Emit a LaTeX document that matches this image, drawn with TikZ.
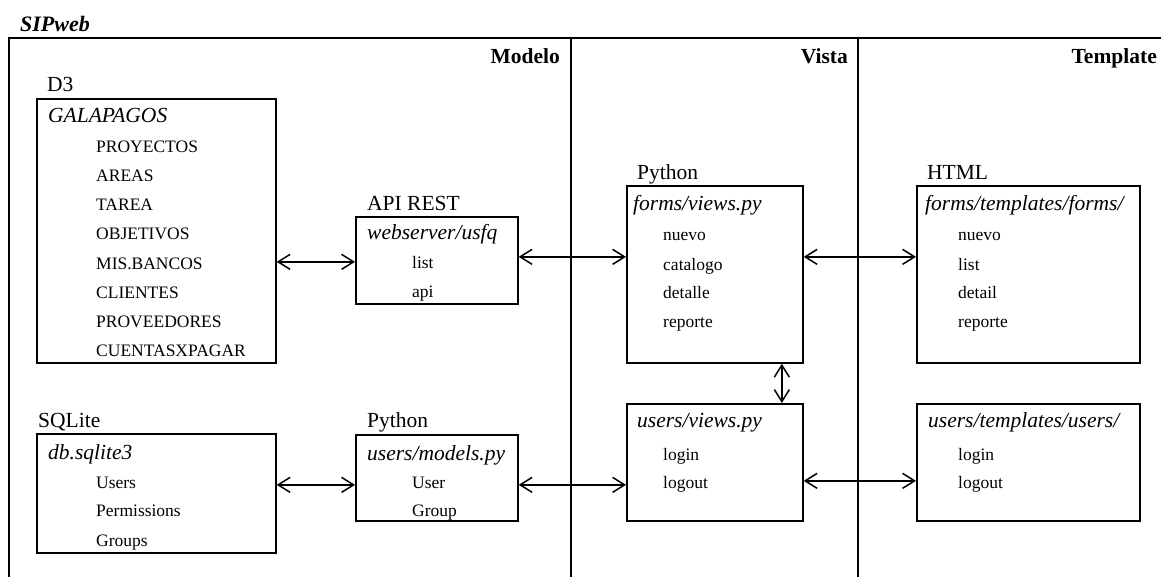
\documentclass[tikz,border=0pt]{standalone}
\usepackage{fontspec}
\setmainfont{Liberation Serif}
\usetikzlibrary{arrows.meta}
\begin{document}
\begin{tikzpicture}[x=1pt,y=-1pt,
  box/.style={draw, line width=1.7pt, inner sep=0pt, anchor=north west},
  lbl/.style={inner sep=0pt, anchor=base west, font=\fontsize{21.5}{24}\selectfont},
  ttl/.style={inner sep=0pt, anchor=base west, font=\fontsize{21.5}{24}\selectfont\itshape},
  item/.style={inner sep=0pt, anchor=base west, font=\fontsize{17.5}{20}\selectfont},
  hdr/.style={inner sep=0pt, anchor=base east, font=\fontsize{21.5}{24}\selectfont\bfseries},
  frame/.style={line width=1.5pt},
  conn/.style={line width=1.5pt, {Straight Barb[length=12pt,width=15pt]}-{Straight Barb[length=12pt,width=15pt]}}
]
\useasboundingbox (0,0) rectangle (1161,577);

% title and frame
\node[inner sep=0pt, anchor=base west, font=\fontsize{22}{24}\selectfont\bfseries\itshape] (title) at (20,32) {SIPweb};
\coordinate (tl) at (9,38);
\coordinate (tr) at (1161,38);
\coordinate (bl) at (9,577);
\coordinate (d1t) at (571,38);
\coordinate (d1b) at (571,577);
\coordinate (d2t) at (858,38);
\coordinate (d2b) at (858,577);
\draw[frame] (bl) -- (tl) -- (tr);
\draw[frame] (d1t) -- (d1b);
\draw[frame] (d2t) -- (d2b);
\node[hdr] (hmod) at (560,64) {Modelo};
\node[hdr] (hvis) at (848,64) {Vista};
\node[hdr] (htem) at (1157,64) {Template};

% boxes
\node[box, minimum width=239pt, minimum height=264pt] (d3) at (36,98) {};
\node[box, minimum width=162pt, minimum height=87pt] (api) at (355,216) {};
\node[box, minimum width=176pt, minimum height=177pt] (fv) at (626,185) {};
\node[box, minimum width=223pt, minimum height=177pt] (html) at (916,185) {};
\node[box, minimum width=239pt, minimum height=119pt] (sql) at (36,433) {};
\node[box, minimum width=162pt, minimum height=86pt] (mod) at (355,434) {};
\node[box, minimum width=176pt, minimum height=117pt] (uv) at (626,403) {};
\node[box, minimum width=223pt, minimum height=117pt] (ut) at (916,403) {};

% D3
\node[lbl] (d3l) at (47,92) {D3};
\node[ttl] (d3t) at (48,122.3) {GALAPAGOS};
\node[item] (d3a) at (96,152.7) {PROYECTOS};
\node[item] (d3b) at (96,181.8) {AREAS};
\node[item] (d3c) at (96,210.9) {TAREA};
\node[item] (d3d) at (96,240) {OBJETIVOS};
\node[item] (d3e) at (96,269.1) {MIS.BANCOS};
\node[item] (d3f) at (96,298.2) {CLIENTES};
\node[item] (d3g) at (96,327.3) {PROVEEDORES};
\node[item] (d3h) at (96,356.4) {CUENTASXPAGAR};

% API REST
\node[lbl] (apil) at (367,210.7) {API REST};
\node[ttl] (apit) at (367,240) {webserver/usfq};
\node[item] (apia) at (412,268.5) {list};
\node[item] (apib) at (412,298) {api};

% forms views
\node[lbl] (fvl) at (637,180) {Python};
\node[ttl] (fvt) at (633,210.7) {forms/views.py};
\node[item] (fva) at (663,241) {nuevo};
\node[item] (fvb) at (663,270) {catalogo};
\node[item] (fvc) at (663,298.5) {detalle};
\node[item] (fvd) at (663,327.5) {reporte};

% HTML
\node[lbl] (htmll) at (927,180) {HTML};
\node[ttl] (htmlt) at (925,210.7) {forms/templates/forms/};
\node[item] (htmla) at (958,241) {nuevo};
\node[item] (htmlb) at (958,270) {list};
\node[item] (htmlc) at (958,298.5) {detail};
\node[item] (htmld) at (958,327.5) {reporte};

% SQLite
\node[lbl] (sqll) at (38,427.7) {SQLite};
\node[ttl] (sqlt) at (48,459) {db.sqlite3};
\node[item] (sqla) at (96,488) {Users};
\node[item] (sqlb) at (96,516.7) {Permissions};
\node[item] (sqlc) at (96,546) {Groups};

% models
\node[lbl] (modl) at (367,427.7) {Python};
\node[ttl] (modt) at (367,460) {users/models.py};
\node[item] (moda) at (412,488) {User};
\node[item] (modb) at (412,516.7) {Group};

% users views
\node[ttl] (uvt) at (637,427.7) {users/views.py};
\node[item] (uva) at (663,460) {login};
\node[item] (uvb) at (663,488) {logout};

% users templates
\node[ttl] (utt) at (928,427.7) {users/templates/users/};
\node[item] (uta) at (958,460) {login};
\node[item] (utb) at (958,488) {logout};

% connectors
\draw[conn] ([yshift=-1.5pt]d3.east |- api.west) -- ([yshift=-1.5pt]api.west);
\draw[conn] ([yshift=3.5pt]api.east) -- ([yshift=3.5pt]api.east -| fv.west);
\draw[conn] ([yshift=3.5pt]fv.east |- api.east) -- ([yshift=3.5pt]html.west |- api.east);
\draw[conn] ([xshift=67pt]fv.south) -- ([xshift=67pt]fv.south |- uv.north);
\draw[conn] ([yshift=-7pt]sql.east |- mod.west) -- ([yshift=-7pt]mod.west);
\draw[conn] ([yshift=-7pt]mod.east) -- ([yshift=-7pt]mod.east -| uv.west);
\draw[conn] ([yshift=-18.5pt]uv.east) -- ([yshift=-18.5pt]ut.west);
\end{tikzpicture}
\end{document}
